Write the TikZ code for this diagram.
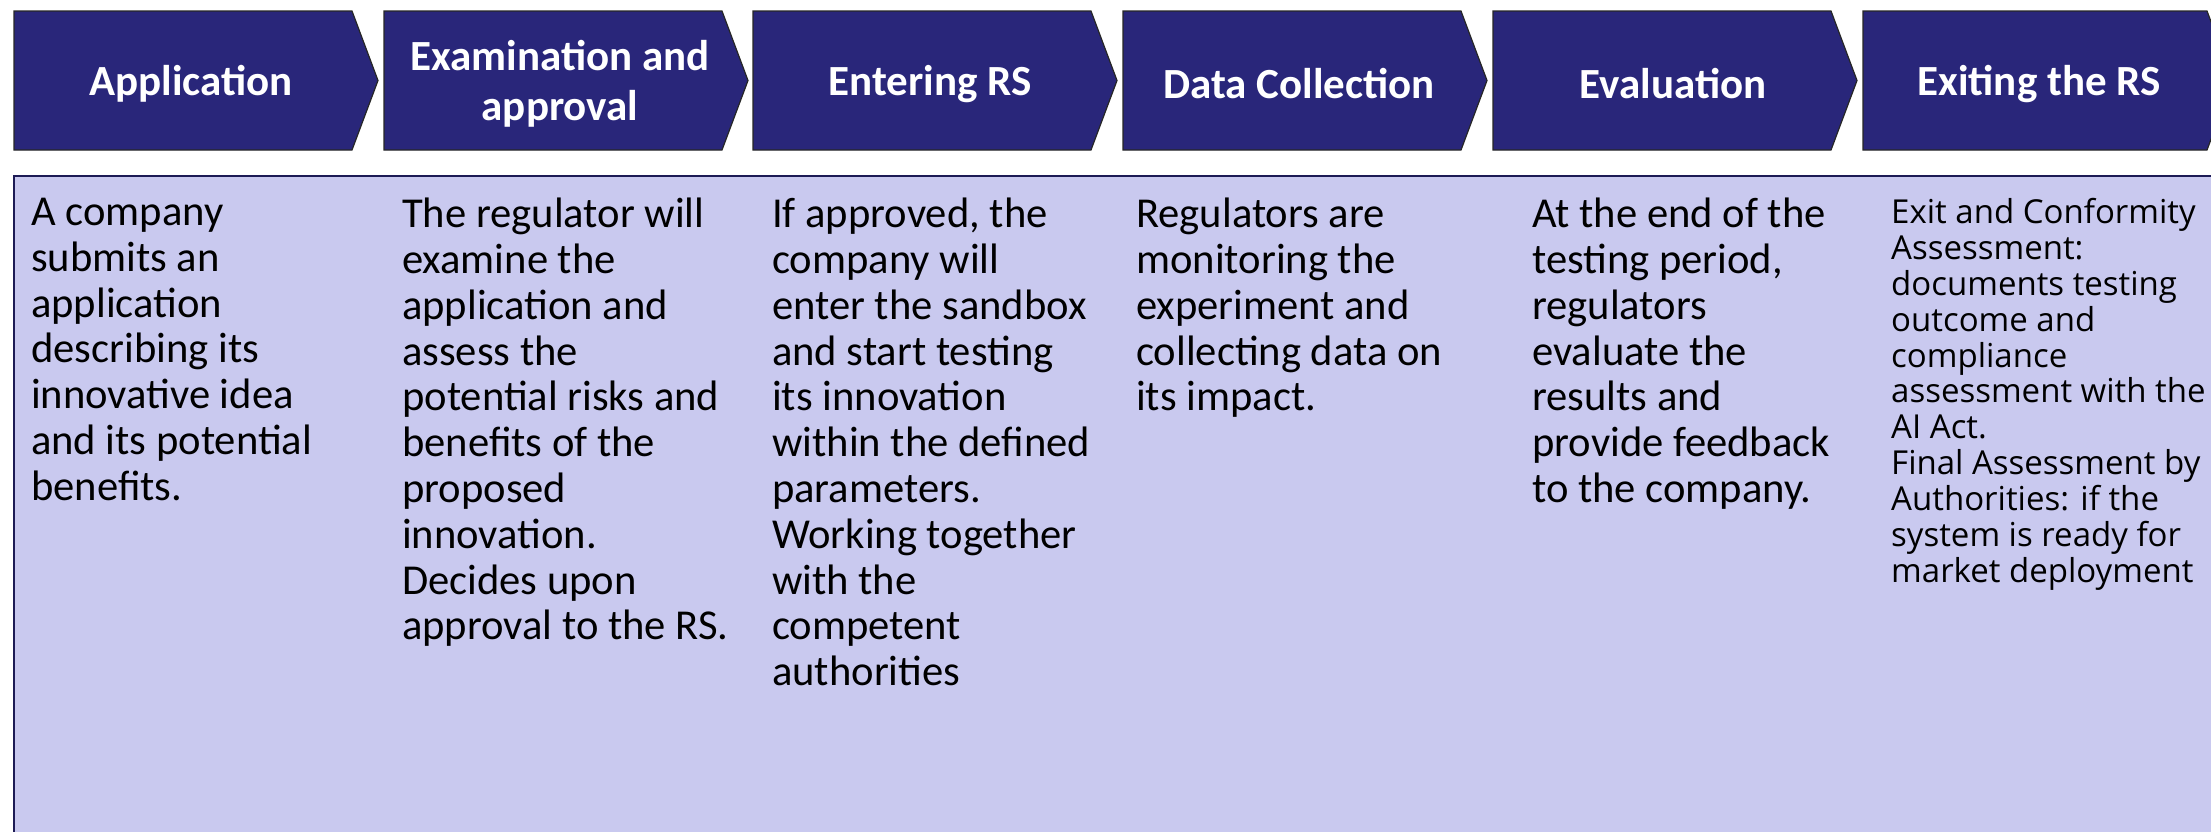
\documentclass[tikz,border=0pt]{standalone}
\usepackage{fontspec}
\setmainfont{Carlito}
\newfontfamily\exitfont{Open Sans}
\usetikzlibrary{positioning}

\definecolor{stepnavy}{RGB}{41,38,122}
\definecolor{panelblue}{RGB}{201,201,239}

\begin{document}
\begin{tikzpicture}[
    x=1pt, y=-1pt,
    chev/.style={fill=stepnavy, draw=black!85, line width=1.2pt},
    steplabel/.style={text=white, font=\fontsize{43}{50}\selectfont\bfseries, align=center},
    panel/.style={fill=panelblue, draw=stepnavy!70!black, line width=2.5pt},
    desc/.style={anchor=north west, inner sep=0pt, align=left, font=\fontsize{42.6}{45.8}\selectfont},
    descsmall/.style={desc, font=\exitfont\fontsize{33}{35.9}\selectfont}
]
\useasboundingbox (0,0) rectangle (2211,831);
\clip (0,0) rectangle (2211,831);

% Panel
\draw[panel] (14,176) rectangle (2260,880);

% Steps
\draw[chev] (14,11) -- ++(338,0) -- ++(26,69.5) -- ++(-26,69.5) -- ++(-338,0) -- cycle;
\draw[chev] (384,11) -- ++(338,0) -- ++(26,69.5) -- ++(-26,69.5) -- ++(-338,0) -- cycle;
\draw[chev] (753,11) -- ++(338,0) -- ++(26,69.5) -- ++(-26,69.5) -- ++(-338,0) -- cycle;
\draw[chev] (1123,11) -- ++(338,0) -- ++(26,69.5) -- ++(-26,69.5) -- ++(-338,0) -- cycle;
\draw[chev] (1493,11) -- ++(338,0) -- ++(26,69.5) -- ++(-26,69.5) -- ++(-338,0) -- cycle;
\draw[chev] (1863,11) -- ++(344,0) -- ++(26,69.5) -- ++(-26,69.5) -- ++(-344,0) -- cycle;

\node[steplabel] (app) at (191,84) {Application};
\node[steplabel] (exam) at (560,84) {Examination and\\approval};
\node[steplabel] (enter) at (930,84) {Entering RS};
\node[steplabel] (data) at (1299,84) {Data Collection};
\node[steplabel] (eval) at (1673,84) {Evaluation};
\node[steplabel] (exit) at (2039,84) {Exiting the RS};

% Descriptions
\node[desc] (appdesc) at (31,198) {A company\\submits an\\application\\describing its\\innovative idea\\and its potential\\benefits.};
\node[desc] (examdesc) at (402,198) {The regulator will\\examine the\\application and\\assess the\\potential risks and\\benefits of the\\proposed\\innovation.\\Decides upon\\approval to the RS.};
\node[desc] (enterdesc) at (772,198) {If approved, the\\company will\\enter the sandbox\\and start testing\\its innovation\\within the defined\\parameters.\\Working together\\with the\\competent\\authorities};
\node[desc] (datadesc) at (1136,198) {Regulators are\\monitoring the\\experiment and\\collecting data on\\its impact.};
\node[desc] (evaldesc) at (1532,198) {At the end of the\\testing period,\\regulators\\evaluate the\\results and\\provide feedback\\to the company.};
\node[descsmall] (exitdesc) at (1891,198) {Exit and Conformity\\Assessment:\\documents testing\\outcome and\\compliance\\assessment with the\\AI Act.\\Final Assessment by\\Authorities: if the\\system is ready for\\market deployment};

\end{tikzpicture}
\end{document}
